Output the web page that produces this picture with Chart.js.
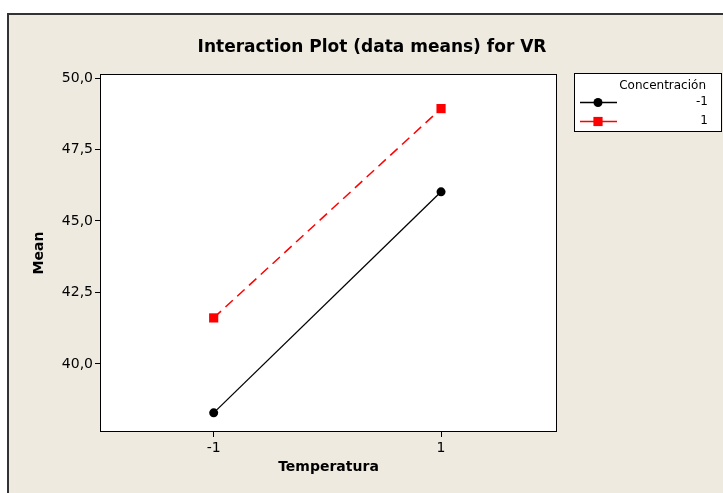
<!DOCTYPE html>
<html>
<head>
<meta charset="utf-8">
<script src="https://cdn.jsdelivr.net/npm/chart.js@4/dist/chart.umd.min.js"></script>
<style>
  html, body { margin:0; padding:0; background:#fff; }
  #wrap { width:723px; height:493px; position:relative; }
</style>
</head>
<body>
<div id="wrap"><canvas id="chart" width="723" height="493"></canvas></div>
<script>
// Interaction plot values
const temperatura = [-1, 1];
const concMinus1 = [38.29, 46.02];
const concPlus1 = [41.61, 48.93];
const yTicks = [40, 42.5, 45, 47.5, 50];
const xTicks = [-1, 1];
const seriesLabels = ['-1', '1'];
const legendTitle = 'Concentración';
const chartTitle = 'Interaction Plot (data means) for VR';

const FONT = "'DejaVu Sans', Verdana, sans-serif";
const BG = '#eeeae0';

const toPoints = vals => temperatura.map((t, i) => ({ x: t, y: vals[i] }));

const framePlugin = {
  id: 'frame',
  beforeDraw(chart){
    const { ctx, chartArea: a } = chart;
    ctx.save();
    ctx.fillStyle = '#fff';
    ctx.fillRect(0, 0, chart.width, chart.height);
    ctx.fillStyle = BG;
    ctx.fillRect(8, 14, chart.width - 8, chart.height - 14);
    ctx.strokeStyle = '#333';
    ctx.lineWidth = 2;
    ctx.beginPath();
    ctx.moveTo(8, chart.height); ctx.lineTo(8, 14); ctx.lineTo(chart.width, 14);
    ctx.stroke();
    ctx.fillStyle = '#fff';
    ctx.fillRect(a.left, a.top, a.right - a.left, a.bottom - a.top);
    ctx.restore();
  },
  afterDraw(chart){
    const { ctx, chartArea: a } = chart;
    ctx.save();
    ctx.strokeStyle = '#000';
    ctx.lineWidth = 1;
    ctx.strokeRect(Math.round(a.left) + 0.5, Math.round(a.top) + 0.5,
      Math.round(a.right - a.left) - 1, Math.round(a.bottom - a.top) - 1);

    // title
    ctx.fillStyle = '#000';
    ctx.font = 'bold 17px ' + FONT;
    ctx.textAlign = 'center';
    ctx.textBaseline = 'middle';
    ctx.fillText(chartTitle, 372, 48);

    // legend box
    const bx = 574, by = 73, bw = 148, bh = 59;
    ctx.fillStyle = '#fff';
    ctx.fillRect(bx, by, bw, bh);
    ctx.strokeStyle = '#000';
    ctx.strokeRect(bx + 0.5, by + 0.5, bw - 1, bh - 1);
    ctx.fillStyle = '#000';
    ctx.font = '12px ' + FONT;
    ctx.textAlign = 'right';
    ctx.fillText(legendTitle, 706, 86);
    chart.data.datasets.forEach((ds, i) => {
      const y = 102 + i * 19;
      ctx.strokeStyle = ds.borderColor;
      ctx.lineWidth = 1.3;
      ctx.beginPath();
      ctx.moveTo(580, y + 0.5); ctx.lineTo(617, y + 0.5);
      ctx.stroke();
      ctx.fillStyle = ds.pointBackgroundColor;
      Chart.helpers.drawPoint(ctx, { pointStyle: ds.pointStyle, radius: ds.pointRadius, rotation: 0, borderWidth: 0 }, 598, y + 0.5);
      ctx.fillStyle = '#000';
      ctx.fillText(seriesLabels[i], 708, y);
    });
    ctx.restore();
  }
};

new Chart(document.getElementById('chart'), {
  type: 'line',
  data: {
    datasets: [
      { label: seriesLabels[0], data: toPoints(concMinus1), borderColor: '#000', borderWidth: 1.3,
        pointStyle: 'circle', pointRadius: 4.5, pointBackgroundColor: '#000', pointBorderWidth: 0 },
      { label: seriesLabels[1], data: toPoints(concPlus1), borderColor: '#ff0000', borderWidth: 1.5,
        borderDash: [10, 6], pointStyle: 'rect', pointRadius: 6.5, pointBackgroundColor: '#ff0000', pointBorderWidth: 0 }
    ]
  },
  options: {
    responsive: false,
    animation: false,
    layout: { padding: { left: 0, right: 166, top: 74, bottom: 0 } },
    plugins: { legend: { display: false }, title: { display: false }, tooltip: { enabled: false } },
    scales: {
      x: {
        type: 'linear', min: -2, max: 2.02,
        afterBuildTicks: s => { s.ticks = xTicks.map(v => ({ value: v })); },
        afterFit: s => { s.height = 61; },
        grid: { drawOnChartArea: false, tickLength: 5, color: '#000' },
        border: { display: false },
        ticks: { color: '#000', font: { family: FONT, size: 14 }, padding: 3, maxRotation: 0,
          callback: v => String(v) },
        title: { display: true, text: 'Temperatura', color: '#000',
          font: { family: FONT, size: 14, weight: 'bold' }, padding: { top: 0, bottom: 17 } }
      },
      y: {
        min: 37.62, max: 50.14,
        afterBuildTicks: s => { s.ticks = yTicks.map(v => ({ value: v })); },
        afterFit: s => { s.width = 100; },
        grid: { drawOnChartArea: false, tickLength: 5, color: '#000' },
        border: { display: false },
        ticks: { color: '#000', font: { family: FONT, size: 14 }, padding: 2,
          callback: v => v.toFixed(1).replace('.', ',') },
        title: { display: true, text: 'Mean', color: '#000',
          font: { family: FONT, size: 14, weight: 'bold' }, padding: { top: 31, bottom: 0 } }
      }
    }
  },
  plugins: [framePlugin]
});
</script>
</body>
</html>
